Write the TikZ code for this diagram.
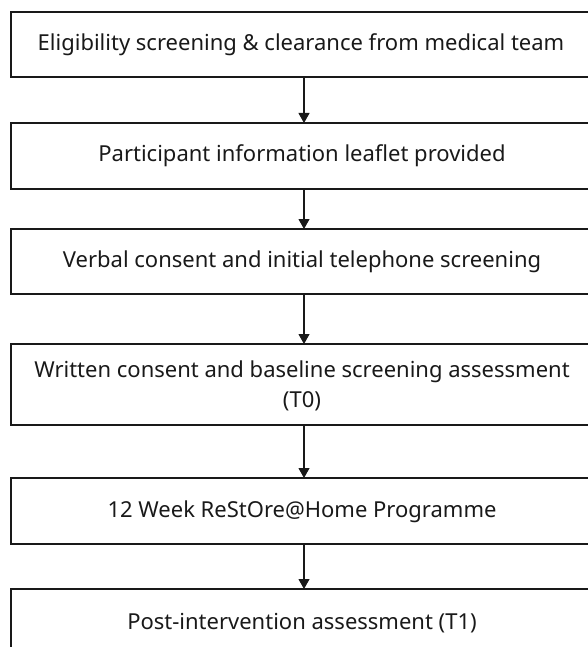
\documentclass[tikz,border=0pt]{standalone}
\usepackage{fontspec}
\setmainfont{Noto Sans}
\usetikzlibrary{arrows.meta}
\begin{document}
\begin{tikzpicture}[x=1pt,y=-1pt,
  box/.style={draw=black!90, line width=1.2pt, minimum width=586pt, inner sep=0pt, outer sep=0pt},
  lbl/.style={font=\fontsize{22}{30}\selectfont, align=center, inner sep=0pt, text=black!90},
  arr/.style={line width=1.1pt, draw=black!90, -{Triangle[length=10pt,width=11pt]}}]
\useasboundingbox (0,0) rectangle (588,647);
\clip (0,0) rectangle (588,647);
\node[box, minimum height=65pt] (box1) at (304,44.5) {};
\node[box, minimum height=66pt] (box2) at (304,156) {};
\node[box, minimum height=65pt] (box3) at (304,261.5) {};
\node[box, minimum height=81pt] (box4) at (304,384.5) {};
\node[box, minimum height=66pt] (box5) at (304,511) {};
\node[box, minimum height=66pt] (box6) at (304,622) {};
\node[lbl] (t1) at (301,45) {Eligibility screening \& clearance from medical team};
\node[lbl] (t2) at (302,156) {Participant information leaflet provided};
\node[lbl] (t3) at (302,262) {Verbal consent and initial telephone screening};
\node[lbl] (t4) at (302,386) {Written consent and baseline screening assessment\\(T0)};
\node[lbl] (t5) at (302,512) {12 Week ReStOre@Home Programme};
\node[lbl] (t6) at (302,623) {Post-intervention assessment (T1)};
\draw[arr] (box1) -- (box2);
\draw[arr] (box2) -- (box3);
\draw[arr] (box3) -- (box4);
\draw[arr] (box4) -- (box5);
\draw[arr] (box5) -- (box6);
\end{tikzpicture}
\end{document}
